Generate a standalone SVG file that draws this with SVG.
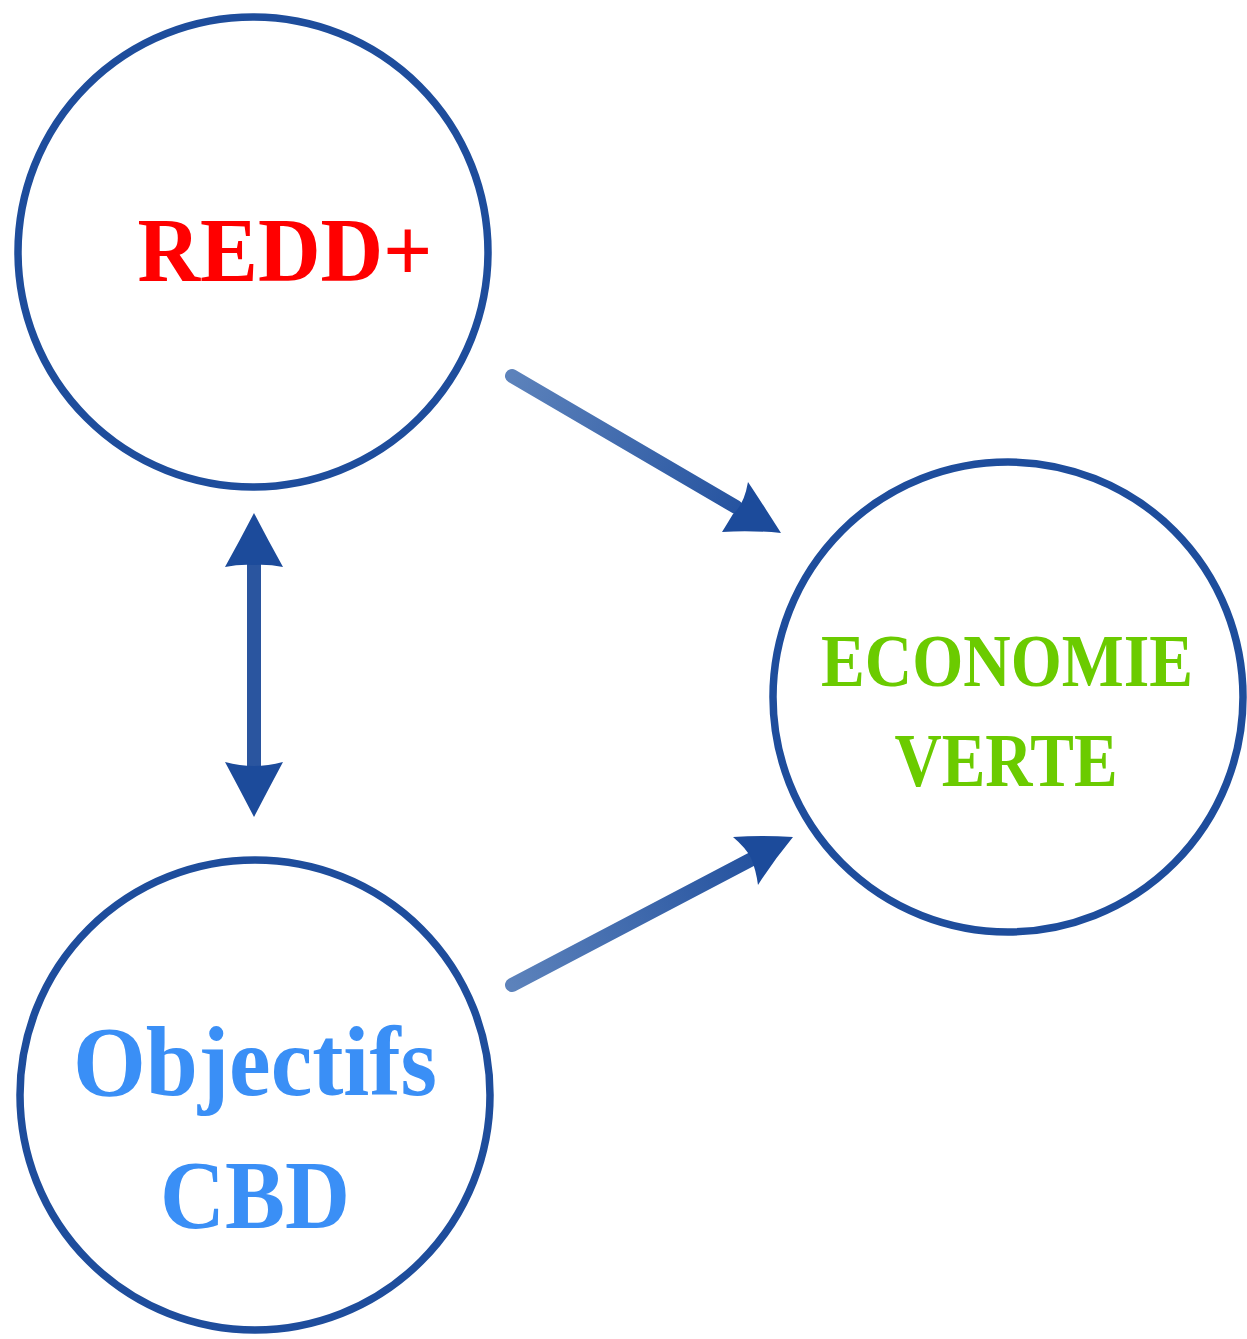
<svg xmlns="http://www.w3.org/2000/svg" width="1247" height="1339" viewBox="0 0 1247 1339">
<style>
.node{fill:#fff;stroke:#1e4d9c;stroke-width:7.5}
.t{font-family:"Liberation Serif","DejaVu Serif",serif;font-weight:bold;text-anchor:middle}
</style>
<defs>
<linearGradient id="g1" gradientUnits="userSpaceOnUse" x1="512" y1="376" x2="781" y2="533"><stop offset="0" stop-color="#5c82bb"/><stop offset="1" stop-color="#1c4b9b"/></linearGradient>
<linearGradient id="g2" gradientUnits="userSpaceOnUse" x1="512" y1="985" x2="793" y2="837"><stop offset="0" stop-color="#5c82bb"/><stop offset="1" stop-color="#1c4b9b"/></linearGradient>
</defs>
<rect width="1247" height="1339" fill="#fff"/>
<g id="connectors">
<path d="M512,376 L736,507" stroke="url(#g1)" stroke-width="14" stroke-linecap="round" fill="none"/>
<path d="M781,533 Q760,500 748,482 Q744,505 733,514 Q727,524 722,532 Q750,530 781,533 Z" fill="#1c4b9b"/>
<path d="M512,985 L752,859" stroke="url(#g2)" stroke-width="14" stroke-linecap="round" fill="none"/>
<path d="M793,837 Q762,835 733,837 Q746,848 751,858 Q756,870 758,885 Q774,860 793,837 Z" fill="#1c4b9b"/>
<path d="M254,560 L254,770" stroke="#2a559f" stroke-width="14" fill="none"/>
<path d="M254,513 Q240,540 225,567 Q240,564 254,565 Q268,564 283,567 Q268,540 254,513 Z" fill="#1c4b9b"/>
<path d="M254,817 Q240,790 225,762 Q240,766 254,766 Q268,766 283,762 Q268,790 254,817 Z" fill="#1c4b9b"/>
</g>
<g id="redd">
<circle class="node" cx="253" cy="252" r="235"/>
<text class="t" x="285" y="281" font-size="92" fill="#ff0000" textLength="295" lengthAdjust="spacingAndGlyphs">REDD+</text>
</g>
<g id="economie">
<circle class="node" cx="1008" cy="697" r="235"/>
<text class="t" x="1007" y="686" font-size="74" fill="#6bcb00" textLength="372" lengthAdjust="spacingAndGlyphs">ECONOMIE</text>
<text class="t" x="1006" y="786" font-size="76" fill="#6bcb00" textLength="223" lengthAdjust="spacingAndGlyphs">VERTE</text>
</g>
<g id="cbd">
<circle class="node" cx="255" cy="1095" r="235"/>
<text class="t" x="255" y="1095" font-size="100" fill="#3a8ff6" textLength="364" lengthAdjust="spacingAndGlyphs">Objectifs</text>
<text class="t" x="255" y="1228" font-size="98" fill="#3a8ff6" textLength="190" lengthAdjust="spacingAndGlyphs">CBD</text>
</g>
</svg>
